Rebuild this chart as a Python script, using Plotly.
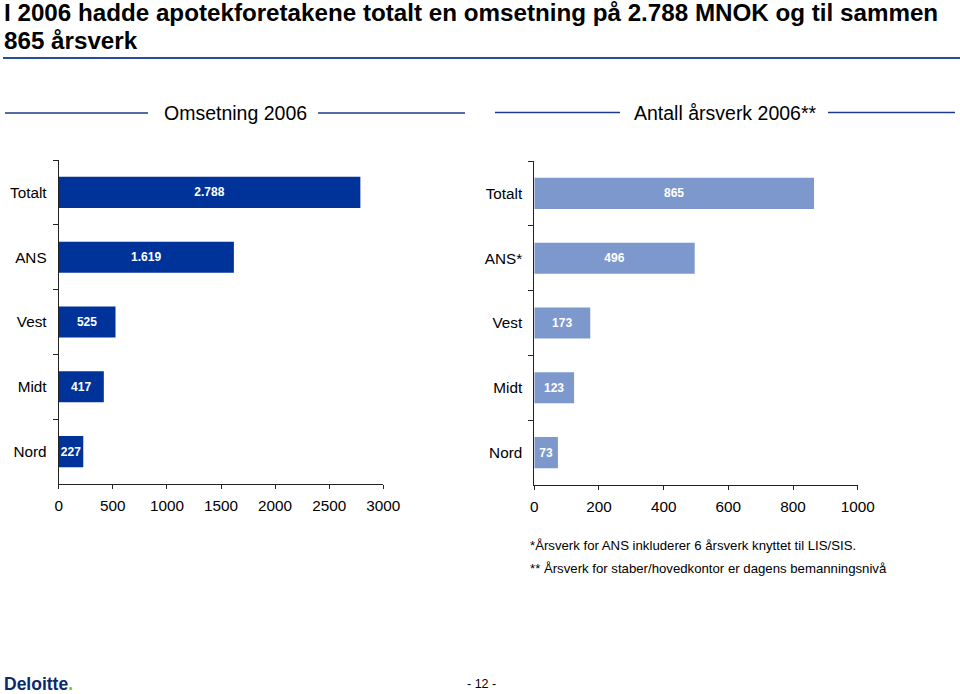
import plotly.graph_objects as go

# ---- data ----
rev_cats = ["Totalt", "ANS", "Vest", "Midt", "Nord"]
rev_vals = [2788, 1619, 525, 417, 227]
rev_text = ["2.788", "1.619", "525", "417", "227"]

fte_cats = ["Totalt", "ANS*", "Vest", "Midt", "Nord"]
fte_vals = [865, 496, 173, 123, 73]
fte_text = ["865", "496", "173", "123", "73"]

rev_ticks = [0, 500, 1000, 1500, 2000, 2500, 3000]
fte_ticks = [0, 200, 400, 600, 800, 1000]

title_l1 = "I 2006 hadde apotekforetakene totalt en omsetning på 2.788 MNOK og til sammen"
title_l2 = "865 årsverk"
head_left = "Omsetning 2006"
head_right = "Antall årsverk 2006**"
foot1 = "*Årsverk for ANS inkluderer 6 årsverk knyttet til LIS/SIS."
foot2 = "** Årsverk for staber/hovedkontor er dagens bemanningsnivå"

W, H = 960, 694
FONT = "Liberation Sans, Arial, sans-serif"
DARK = "#003399"
LIGHT = "#7d98cc"
NAVY = "#1c3a86"


def px(x):
    return x / W


def py(y):
    return (H - y) / H


fig = go.Figure()
fig.add_trace(go.Bar(
    x=rev_vals, y=rev_cats, orientation="h", text=rev_text,
    textposition="inside", insidetextanchor="middle", constraintext="none",
    textangle=0,
    textfont=dict(color="white", size=12, family=FONT, weight="bold"),
    marker=dict(color=DARK, line=dict(width=0)),
    xaxis="x", yaxis="y", hoverinfo="skip", width=0.48,
))
fig.add_trace(go.Bar(
    x=fte_vals, y=fte_cats, orientation="h", text=fte_text,
    textposition="inside", insidetextanchor="middle", constraintext="none",
    textangle=0,
    textfont=dict(color="white", size=12, family=FONT, weight="bold"),
    marker=dict(color=LIGHT, line=dict(width=0)),
    xaxis="x2", yaxis="y2", hoverinfo="skip", width=0.48,
))

axis_common = dict(showgrid=False, zeroline=False, showline=True,
                   linecolor="#222", linewidth=1, ticks="outside",
                   tickcolor="#222", tickwidth=1, automargin=False,
                   tickfont=dict(size=15.3, family=FONT, color="black"))

fig.update_layout(
    width=W, height=H,
    margin=dict(l=0, r=0, t=0, b=0, pad=0, autoexpand=False),
    paper_bgcolor="white", plot_bgcolor="white", showlegend=False,
    font=dict(family=FONT, color="black"),
    xaxis=dict(domain=[px(58.7), px(383.3)], range=[0, 3000], tickvals=rev_ticks,
               ticklen=4, anchor="y", ticklabelstandoff=4, **axis_common),
    yaxis=dict(domain=[py(484), py(160)], autorange="reversed", anchor="x",
               categoryorder="array", categoryarray=rev_cats,
               tickson="boundaries", ticklen=5, ticklabelstandoff=8, **axis_common),
    xaxis2=dict(domain=[px(534.3), px(857.7)], range=[0, 1000], tickvals=fte_ticks,
                ticklen=4, anchor="y2", ticklabelstandoff=4, **axis_common),
    yaxis2=dict(domain=[py(485), py(161)], autorange="reversed", anchor="x2",
                categoryorder="array", categoryarray=fte_cats,
                tickson="boundaries", ticklen=5, ticklabelstandoff=8, **axis_common),
)

shapes = []
# title underline
shapes.append(dict(type="line", xref="paper", yref="paper", x0=px(3), x1=px(960),
                   y0=py(58), y1=py(58), line=dict(color="#2a4c9c", width=2)))
# header rules
for x0, x1, y in [(5, 148, 113), (318, 465, 113), (495, 620, 112.5), (828, 955, 112.5)]:
    shapes.append(dict(type="line", xref="paper", yref="paper", x0=px(x0), x1=px(x1),
                       y0=py(y), y1=py(y), line=dict(color=NAVY, width=1.5)))
fig.update_layout(shapes=shapes)

ann = []
ann.append(dict(text=title_l1, x=px(2), y=py(12.5), xanchor="left", yanchor="middle",
                font=dict(size=24.2, family=FONT, color="black", weight="bold")))
ann.append(dict(text=title_l2, x=px(2), y=py(40.5), xanchor="left", yanchor="middle",
                font=dict(size=24.2, family=FONT, color="black", weight="bold")))
ann.append(dict(text=head_left, x=px(235), y=py(113), xanchor="center", yanchor="middle",
                font=dict(size=19.5, family=FONT, color="black")))
ann.append(dict(text=head_right, x=px(725), y=py(113), xanchor="center", yanchor="middle",
                font=dict(size=19.5, family=FONT, color="black")))
ann.append(dict(text=foot1, x=px(528), y=py(545.5), xanchor="left", yanchor="middle",
                font=dict(size=13.2, family=FONT, color="black")))
ann.append(dict(text=foot2, x=px(528), y=py(568.5), xanchor="left", yanchor="middle",
                font=dict(size=13.2, family=FONT, color="black")))
ann.append(dict(text="Deloitte<span style='color:#86BC25'>.</span>", x=px(2), y=py(684),
                xanchor="left", yanchor="middle",
                font=dict(size=17.5, family=FONT, color="#0b2a6e", weight="bold")))
ann.append(dict(text="- 12 -", x=px(481), y=py(683.5), xanchor="center", yanchor="middle",
                font=dict(size=12.5, family=FONT, color="black")))
for a in ann:
    a.update(xref="paper", yref="paper", showarrow=False)
fig.update_layout(annotations=ann)

fig.write_html("out.html")
